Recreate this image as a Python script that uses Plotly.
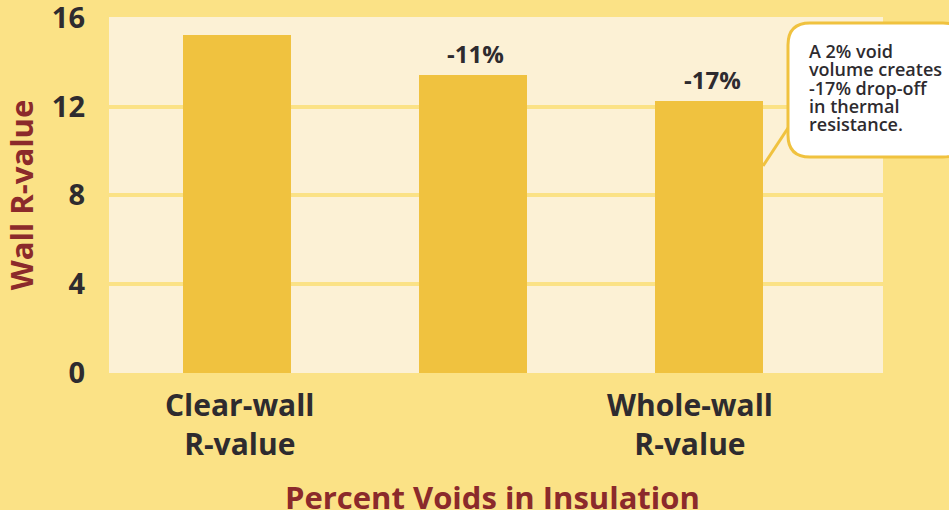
import plotly.graph_objects as go

# ---- data ----
categories = ["Clear-wall<br>R-value", "", "Whole-wall<br>R-value"]
positions = [0, 1, 2]
r_values = [15.2, 13.4, 12.25]
bar_labels = ["", "-11%", "-17%"]
y_ticks = [0, 4, 8, 12, 16]
callout_lines = ["A 2% void", "volume creates", "-17% drop-off", "in thermal", "resistance."]

OUTER = "#FBE286"
PLOT_BG = "#FCF1D5"
BAR = "#F0C23F"
DARK = "#2E2B2F"
RED = "#8B2A2B"
FONT = "Open Sans"

W, H = 949, 510
L, R, T, B = 109, 66, 17, 137
PW, PH = W - L - R, H - T - B


def pxx(x):
    return (x - L) / PW


def pxy(y):
    return (H - B - y) / PH


fig = go.Figure()
fig.add_trace(go.Bar(
    x=positions, y=r_values, width=0.458,
    marker=dict(color=BAR, line=dict(width=0)),
    hoverinfo="skip",
))

# value labels above bars
for xp, v, t in zip(positions, r_values, bar_labels):
    if t:
        fig.add_annotation(x=xp, y=v, text=f"<b>{t}</b>", showarrow=False,
                           yanchor="bottom", yshift=3, xshift=3,
                           font=dict(family=FONT, size=24, color=DARK))

# category labels below axis
label_shift = [3, 0, -19]
for xp, c, s in zip(positions, categories, label_shift):
    if c:
        fig.add_annotation(x=xp, y=0, yref="y", text=f"<b>{c}</b>", showarrow=False,
                           yanchor="top", yshift=-9, xshift=s,
                           font=dict(family=FONT, size=30, color=DARK))

# callout box (rounded) and pointer
x0, x1, y0, y1, r = 788, 965, 23, 157, 22
pts = [("M", [(x0 + r, y0)]), ("L", [(x1 - r, y0)]), ("Q", [(x1, y0), (x1, y0 + r)]),
       ("L", [(x1, y1 - r)]), ("Q", [(x1, y1), (x1 - r, y1)]), ("L", [(x0 + r, y1)]),
       ("Q", [(x0, y1), (x0, y1 - r)]), ("L", [(x0, y0 + r)]), ("Q", [(x0, y0), (x0 + r, y0)])]
path = " ".join(cmd + " " + " ".join(f"{pxx(a):.5f},{pxy(b):.5f}" for a, b in p) for cmd, p in pts) + " Z"
fig.add_shape(type="line", xref="paper", yref="paper",
              x0=pxx(792), y0=pxy(122), x1=pxx(763), y1=pxy(166),
              line=dict(color=BAR, width=3), layer="above")
fig.add_shape(type="path", xref="paper", yref="paper", path=path,
              fillcolor="white", line=dict(color=BAR, width=3), layer="above")
for i, line in enumerate(callout_lines):
    fig.add_annotation(xref="paper", yref="paper", x=pxx(807), y=pxy(51 + 18.3 * i),
                       xanchor="left", yanchor="middle", align="left", showarrow=False,
                       text=line,
                       font=dict(family=FONT, size=18, color=DARK, weight=600))

fig.update_layout(
    width=W, height=H,
    margin=dict(l=L, r=R, t=T, b=B, autoexpand=False),
    paper_bgcolor=OUTER, plot_bgcolor=PLOT_BG,
    showlegend=False,
    bargap=0,
    xaxis=dict(range=[-0.542, 2.737], showticklabels=False, showgrid=False,
               zeroline=False, showline=False, ticks="", automargin=False),
    yaxis=dict(range=[0, 16.03], tickvals=y_ticks, showgrid=True, gridcolor=OUTER,
               gridwidth=4, zeroline=False, showline=False, ticks="",
               automargin=False,
               ticklabelstandoff=23, ticklabeloverflow="allow",
               tickfont=dict(family=FONT, size=29, color=DARK, weight="bold"),
               title=dict(text="<b>Wall R-value</b>", standoff=22,
                          font=dict(family=FONT, size=31, color=RED))),
)
fig.add_annotation(xref="paper", yref="paper", x=pxx(492.5), y=pxy(497), yanchor="middle",
                   text="<b>Percent Voids in Insulation</b>", showarrow=False,
                   font=dict(family=FONT, size=31, color=RED))

fig.write_html("out.html", config={"displayModeBar": False},
               post_script="document.body.style.margin='0';")
